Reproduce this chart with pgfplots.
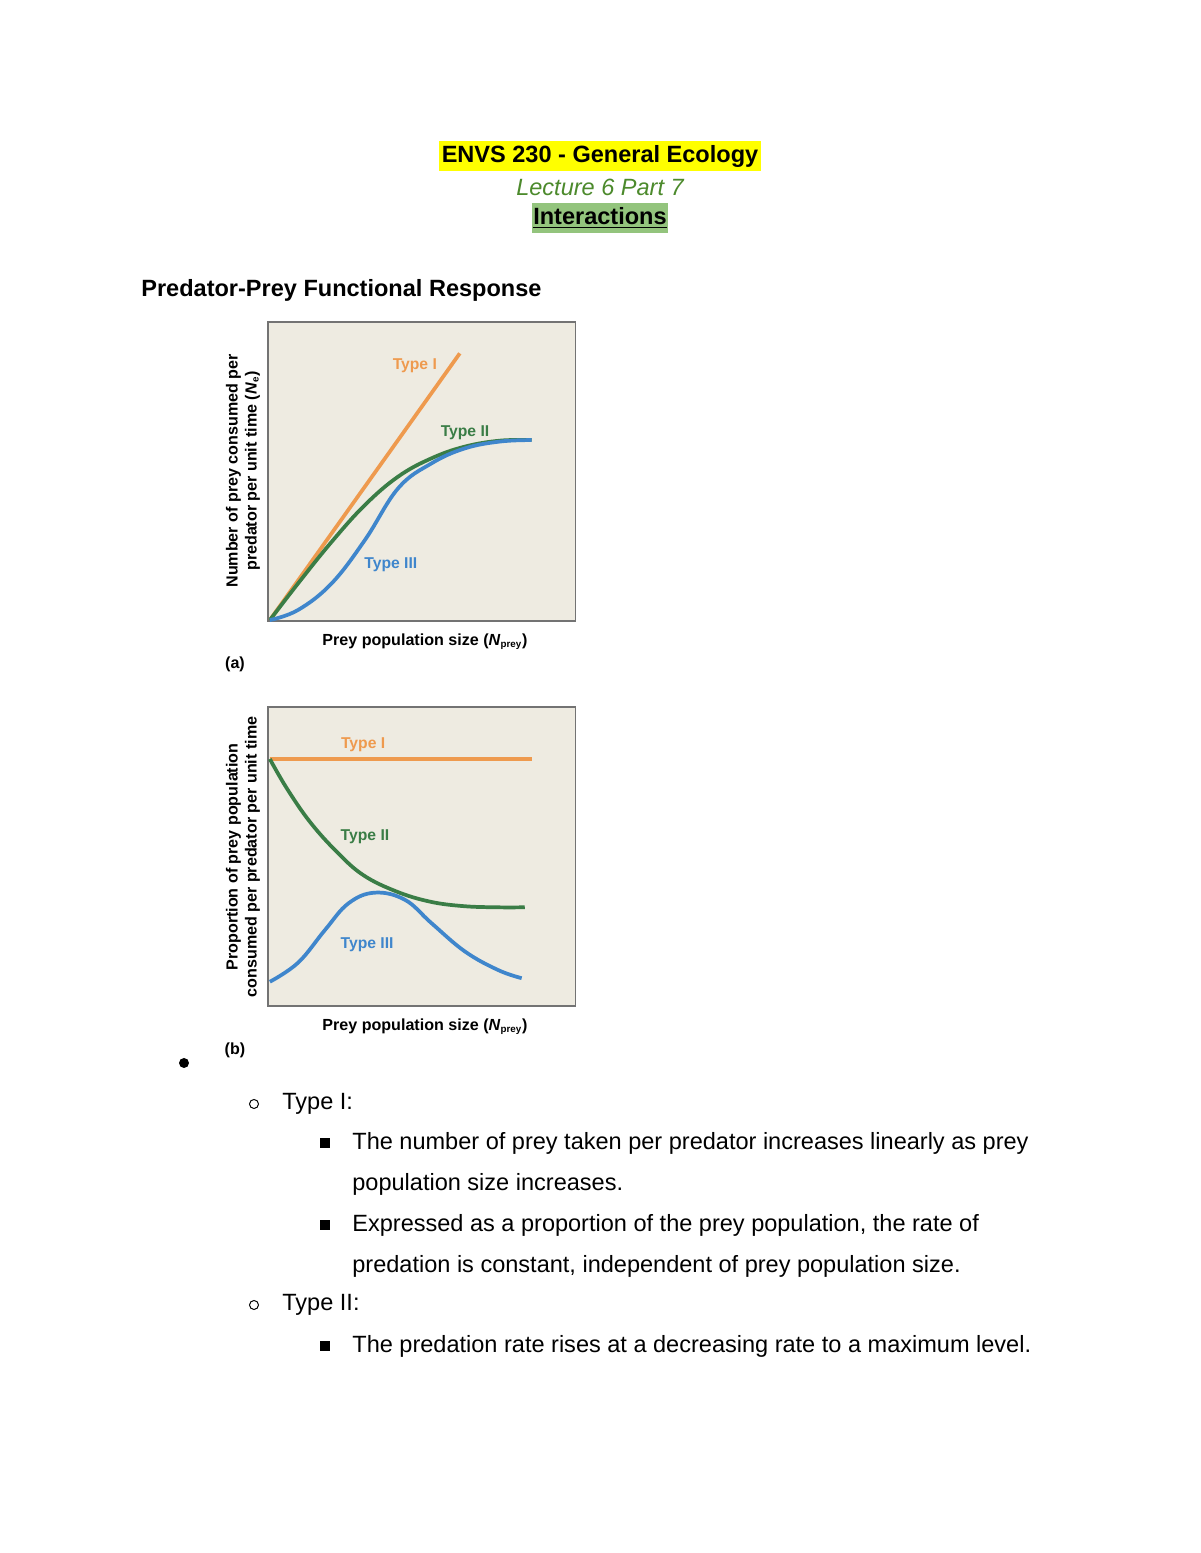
\documentclass[border=0pt]{standalone}
\usepackage{pgfplots}
\pgfplotsset{compat=1.18}
\usepackage{fontspec}
\setmainfont{Liberation Sans}
\definecolor{chartbg}{HTML}{EEEBE1}
\definecolor{typeone}{HTML}{EE9A4E}
\definecolor{typetwo}{HTML}{3A7D46}
\definecolor{typethree}{HTML}{3F86CC}
\definecolor{lecgreen}{HTML}{4C8A2C}
\definecolor{hlgreen}{HTML}{93C47D}
\definecolor{hlyellow}{HTML}{FFFF00}
\pgfplotsset{panel/.style={anchor=south west,scale only axis,
  width=157pt,height=152.5pt,xmin=0,xmax=10,ymin=0,ymax=10,
  ticks=none,axis background/.style={fill=chartbg},
  axis line style={draw=black!55,line width=0.6pt},clip=false}}
\begin{document}
\begin{tikzpicture}[x=0.51pt,y=0.51pt]
\fill[white] (0,0) rectangle (1200,1553);
\useasboundingbox (0,0) rectangle (1200,1553);

% chart (a)
\begin{axis}[panel,at={(136.68pt,475.32pt)}]
\addplot[typeone,line width=1.9pt] coordinates {(0.06,0.03) (6.23,8.95)};
\addplot[typetwo,line width=1.9pt,smooth,tension=0.65] coordinates {
  (0.06,0.03) (0.98,1.26) (2.07,2.65) (3.15,3.88) (4.23,4.83)
  (5.31,5.44) (6.39,5.83) (7.53,6.03) (8.56,6.05)};
\addplot[typethree,line width=1.9pt,smooth,tension=0.65] coordinates {
  (0.06,0.03) (0.98,0.37) (2.07,1.26) (3.15,2.71) (4.23,4.44)
  (5.31,5.27) (6.39,5.77) (7.53,6.00) (8.56,6.05)};
\node[text=typeone,font=\fontsize{8}{9}\selectfont\bfseries] at (axis cs:4.77,8.53) {Type I};
\node[text=typetwo,font=\fontsize{8}{9}\selectfont\bfseries] at (axis cs:6.40,6.30) {Type II};
\node[text=typethree,font=\fontsize{8}{9}\selectfont\bfseries] at (axis cs:3.99,1.87) {Type III};
\end{axis}

% chart (b)
\begin{axis}[panel,at={(136.68pt,278.97pt)}]
\addplot[typeone,line width=1.9pt] coordinates {(0.06,8.26) (8.56,8.26)};
\addplot[typetwo,line width=1.9pt,smooth,tension=0.65] coordinates {
  (0.06,8.26) (0.61,7.28) (1.36,6.16) (2.23,5.16) (3.09,4.38)
  (4.17,3.83) (5.26,3.49) (6.34,3.34) (7.42,3.30) (8.34,3.30)};
\addplot[typethree,line width=1.9pt,smooth,tension=0.65] coordinates {
  (0.06,0.81) (0.98,1.45) (1.85,2.54) (2.61,3.43) (3.47,3.79)
  (4.45,3.55) (5.31,2.77) (6.40,1.82) (7.48,1.20) (8.24,0.93)};
\node[text=typeone,font=\fontsize{8}{9}\selectfont\bfseries] at (axis cs:3.09,8.73) {Type I};
\node[text=typetwo,font=\fontsize{8}{9}\selectfont\bfseries] at (axis cs:3.15,5.65) {Type II};
\node[text=typethree,font=\fontsize{8}{9}\selectfont\bfseries] at (axis cs:3.22,2.04) {Type III};
\end{axis}

\begin{scope}[shift={(0,1553)},y=-0.51pt]
% header
\node[fill=hlyellow,inner xsep=1.5pt,inner ysep=2pt,font=\fontsize{12}{14}\selectfont\bfseries] at (600,156) {ENVS 230 - General Ecology};
\node[text=lecgreen,font=\fontsize{12}{14}\selectfont\itshape] at (600,187) {Lecture 6 Part 7};
\node[fill=hlgreen,inner xsep=0.5pt,inner ysep=2pt,font=\fontsize{12}{14}\selectfont\bfseries] at (600,218) {\underline{Interactions}};
\node[anchor=west,inner sep=0pt,font=\fontsize{12}{14}\selectfont\bfseries] at (141,290) {Predator-Prey Functional Response};

% labels of chart (a)
\node[align=center,rotate=90,font=\fontsize{8.2}{9.6}\selectfont\bfseries] at (243,471)
  {Number of prey consumed per\\predator per unit time (\textit{N}\textsubscript{\fontsize{5}{5}\selectfont e})};
\node[font=\fontsize{8.2}{9.6}\selectfont\bfseries] at (425,642) {Prey population size (\textit{N}\textsubscript{\fontsize{5}{5}\selectfont prey})};
\node[font=\fontsize{8.2}{9.6}\selectfont\bfseries] at (235,664) {(a)};

% labels of chart (b)
\node[align=center,rotate=90,font=\fontsize{8.2}{9.6}\selectfont\bfseries] at (243,857)
  {Proportion of prey population\\consumed per predator per unit time};
\node[font=\fontsize{8.2}{9.6}\selectfont\bfseries] at (425,1027) {Prey population size (\textit{N}\textsubscript{\fontsize{5}{5}\selectfont prey})};
\node[font=\fontsize{8.2}{9.6}\selectfont\bfseries] at (235,1050) {(b)};

% list
\fill (184,1063) circle (5);
\begin{scope}[font=\fontsize{12}{14}\selectfont]
\draw[line width=0.5pt] (254,1104) circle (4.5);
\node[anchor=west,inner sep=0pt] at (282,1104) {Type I:};
\fill (320,1138) rectangle (330,1148);
\node[anchor=west,inner sep=0pt] at (352,1143) {The number of prey taken per predator increases linearly as prey};
\node[anchor=west,inner sep=0pt] at (352,1184) {population size increases.};
\fill (320,1220) rectangle (330,1230);
\node[anchor=west,inner sep=0pt] at (352,1225) {Expressed as a proportion of the prey population, the rate of};
\node[anchor=west,inner sep=0pt] at (352,1266) {predation is constant, independent of prey population size.};
\draw[line width=0.5pt] (254,1305) circle (4.5);
\node[anchor=west,inner sep=0pt] at (282,1305) {Type II:};
\fill (320,1341) rectangle (330,1351);
\node[anchor=west,inner sep=0pt] at (352,1346) {The predation rate rises at a decreasing rate to a maximum level.};
\end{scope}
\end{scope}
\end{tikzpicture}
\end{document}
